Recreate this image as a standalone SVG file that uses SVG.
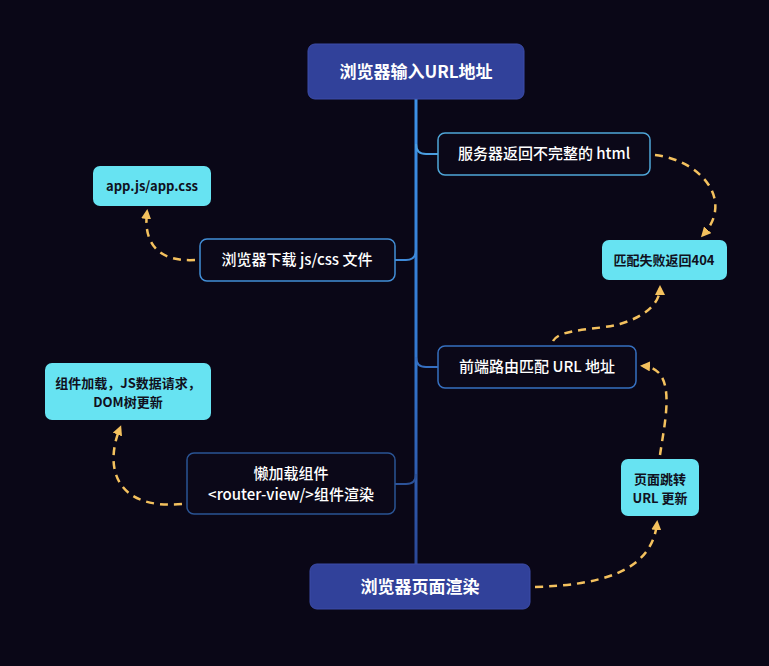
<svg xmlns="http://www.w3.org/2000/svg" width="769" height="666" viewBox="0 0 769 666">
<defs>
<linearGradient id="trunk" x1="0" y1="100" x2="0" y2="565" gradientUnits="userSpaceOnUse">
<stop offset="0" stop-color="#3d92e8"/>
<stop offset="0.55" stop-color="#3378d0"/>
<stop offset="1" stop-color="#2b4796"/>
</linearGradient>
<marker id="ah" markerWidth="10" markerHeight="10" refX="7" refY="5" orient="auto" markerUnits="userSpaceOnUse">
<path d="M0,0 L10,5 L0,10 Z" fill="#f4c15e"/>
</marker>
<style>
.t{font-family:"Noto Sans CJK SC","Noto Sans",sans-serif;fill:#ffffff;font-size:15px;font-weight:500;text-anchor:middle}
.tb{font-family:"Noto Sans CJK SC","Noto Sans",sans-serif;fill:#ffffff;font-size:17px;font-weight:700;text-anchor:middle}
.tc{font-family:"Noto Sans CJK SC","Noto Sans",sans-serif;fill:#101020;font-size:13px;font-weight:700;text-anchor:middle}
.main{fill:#31419a;stroke:#3c4ca8;stroke-width:1}
.cy{fill:#67e3f2}
.dk{fill:#0b0818;stroke-width:1.5}
.br{fill:none;stroke-width:2}
.da{fill:none;stroke:#f4c15e;stroke-width:2.5;stroke-dasharray:8 6;marker-end:url(#ah)}
</style>
</defs>
<rect width="769" height="666" fill="#0a0717"/>
<g id="connectors">
<line x1="416" y1="99" x2="416" y2="565" stroke="url(#trunk)" stroke-width="3"/>
<path class="br" stroke="#4a9ee0" d="M416,144 Q416,154 426,154 L438,154"/>
<path class="br" stroke="#3f8ad8" d="M416,250 Q416,260 406,260 L395,260"/>
<path class="br" stroke="#356fc2" d="M416,357 Q416,367 426,367 L438,367"/>
<path class="br" stroke="#2c5298" d="M416,474 Q416,484 406,484 L395,484"/>
<path class="da" d="M655,155 C700,160 735,200 703,235"/>
<path class="da" d="M195,260 C160,262 143,245 147,212"/>
<path class="da" d="M553,341 C560,328 600,330 620,324 C650,315 660,300 660,288"/>
<path class="da" d="M660,455 C665,420 678,368 643,366"/>
<path class="da" d="M182,504 C118,510 103,470 120,428"/>
<path class="da" d="M535,587 C600,585 652,572 657,523"/>
</g>
<g id="root">
<rect class="main" x="308" y="44" width="216" height="55" rx="7"/>
<text class="tb" x="416" y="78">浏览器输入URL地址</text>
</g>
<g id="html">
<rect class="dk" stroke="#4fa6d8" x="438" y="133" width="212" height="42" rx="7"/>
<text class="t" x="544" y="159">服务器返回不完整的 html</text>
</g>
<g id="jscss">
<rect class="dk" stroke="#428ed6" x="200" y="239" width="195" height="42" rx="7"/>
<text class="t" x="297" y="265">浏览器下载 js/css 文件</text>
</g>
<g id="router">
<rect class="dk" stroke="#3670c0" x="438" y="346" width="198" height="42" rx="7"/>
<text class="t" x="537" y="372">前端路由匹配 URL 地址</text>
</g>
<g id="lazy">
<rect class="dk" stroke="#2a5494" x="187" y="453" width="208" height="61" rx="7"/>
<text class="t" x="291" y="479">懒加载组件</text>
<text class="t" x="291" y="500">&lt;router-view/&gt;组件渲染</text>
</g>
<g id="render">
<rect class="main" x="310" y="564" width="220" height="45" rx="7"/>
<text class="tb" x="420" y="593">浏览器页面渲染</text>
</g>
<g id="appcss">
<rect class="cy" x="93" y="166" width="118" height="40" rx="7"/>
<text class="tc" x="152" y="191">app.js/app.css</text>
</g>
<g id="fail404">
<rect class="cy" x="602" y="240" width="125" height="40" rx="7"/>
<text class="tc" x="664" y="265">匹配失败返回404</text>
</g>
<g id="compload">
<rect class="cy" x="45" y="363" width="166" height="57" rx="7"/>
<text class="tc" x="128" y="388">组件加载，JS数据请求，</text>
<text class="tc" x="128" y="407">DOM树更新</text>
</g>
<g id="jump">
<rect class="cy" x="621" y="459" width="78" height="57" rx="7"/>
<text class="tc" x="660" y="484">页面跳转</text>
<text class="tc" x="660" y="503">URL 更新</text>
</g>
</svg>
